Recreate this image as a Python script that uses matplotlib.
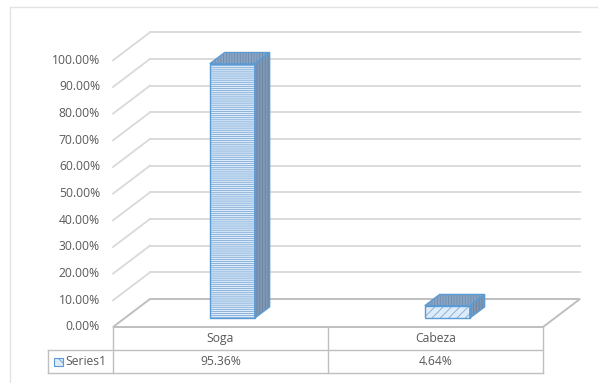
import numpy as np
import matplotlib.pyplot as plt
from matplotlib.patches import Polygon, Rectangle

plt.rcParams['font.family'] = ['Open Sans', 'DejaVu Sans']
plt.rcParams['hatch.linewidth'] = 0.6

categorias = ["Soga", "Cabeza"]
valores = [95.36, 4.64]
etiquetas = ["95.36%", "4.64%"]
serie = "Series1"
ticks_y = np.arange(0, 101, 10)

# escala: 1 categoria = 215 px, 1 % = 2.667 px
px_x = 215.0
px_y = 2.667
dx = 37 / px_x      # profundidad en x
dy = 28 / px_y      # profundidad en y
W, H = 598, 383
x0_px, y0_px = 113, 327

fig = plt.figure(figsize=(W / 100, H / 100), dpi=100)
ax = fig.add_axes([0, 0, 1, 1])
ax.set_xlim(-x0_px / px_x, (W - x0_px) / px_x)
ax.set_ylim(-(H - y0_px) / px_y, y0_px / px_y)
ax.axis("off")

n = len(categorias)
grid_c = "#d9d9d9"
floor_c = "#bfbfbf"
text_c = "#595959"

# marco del grafico (solo arriba e izquierda)
ax.plot([-103 / px_x, (W - x0_px) / px_x], [320 / px_y] * 2, color="#e3e3e3", lw=1)
ax.plot([-103 / px_x] * 2, [320 / px_y, -(H - y0_px) / px_y], color="#e3e3e3", lw=1)

# lineas de la pared de fondo
for v in ticks_y[1:]:
    ax.plot([dx, n + dx], [v + dy, v + dy], color=grid_c, lw=1.3, zorder=1)
    ax.plot([0, dx], [v, v + dy], color=grid_c, lw=1.3, zorder=1)

# piso
piso = Polygon([[0, 0], [n, 0], [n + dx, dy], [dx, dy]], closed=True,
               facecolor="white", edgecolor=floor_c, lw=1.4, zorder=2)
ax.add_patch(piso)

# etiquetas del eje y
for v in ticks_y:
    ax.text(-13 / px_x, v, f"{v:.2f}%", ha="right", va="center",
            fontsize=8.7, color=text_c)

# barras 3D
d0, d1 = 0.32, 0.72
ancho = 45 / px_x
for i, val in enumerate(valores):
    xl = i + 0.5 - ancho / 2 + d0 * dx
    yb = d0 * dy
    ex = (d1 - d0) * dx
    ey = (d1 - d0) * dy
    frente = [[xl, yb], [xl + ancho, yb], [xl + ancho, yb + val], [xl, yb + val]]
    lado = [[xl + ancho, yb], [xl + ancho + ex, yb + ey],
            [xl + ancho + ex, yb + ey + val], [xl + ancho, yb + val]]
    tapa = [[xl, yb + val], [xl + ancho, yb + val],
            [xl + ancho + ex, yb + ey + val], [xl + ex, yb + ey + val]]
    h_frente = "--------" if val > 20 else "////"
    for pts, fc, hc, h in [(frente, "#deebf8", "#7eaad8", h_frente),
                           (lado, "#7f98b5", "#6a83a0", "||||||"),
                           (tapa, "#8aa5c4", "#6f8cac", "||||||")]:
        ax.add_patch(Polygon(pts, closed=True, facecolor=fc, edgecolor=hc,
                             hatch=h, lw=0, zorder=3))
        ax.add_patch(Polygon(pts, closed=True, facecolor="none",
                             edgecolor="#5b9bd5", lw=1.0, zorder=4))

# tabla de datos
r1 = -23 / px_y
r2 = -46 / px_y
xl_leg = -65 / px_x
kw = dict(color=floor_c, lw=1.0)
ax.plot([xl_leg, n], [r1, r1], **kw)
ax.plot([xl_leg, n], [r2, r2], **kw)
ax.plot([xl_leg, xl_leg], [r1, r2], **kw)
for k in range(n + 1):
    ax.plot([k, k], [0, r2], **kw)
for i, cat in enumerate(categorias):
    ax.text(i + 0.5, r1 / 2, cat, ha="center", va="center", fontsize=8.7, color=text_c)
    ax.text(i + 0.5, (r1 + r2) / 2, etiquetas[i], ha="center", va="center",
            fontsize=8.7, color=text_c)

# clave de la leyenda
ax.add_patch(Rectangle((-59 / px_x, (r1 + r2) / 2 - 4 / px_y), 9 / px_x, 8 / px_y,
                       facecolor="#deebf8", edgecolor="#5b9bd5", hatch="\\\\\\",
                       lw=0.8, zorder=3))
ax.text(-48 / px_x, (r1 + r2) / 2, serie, ha="left", va="center",
        fontsize=8.7, color=text_c)

fig.savefig("out.png", dpi=100)
